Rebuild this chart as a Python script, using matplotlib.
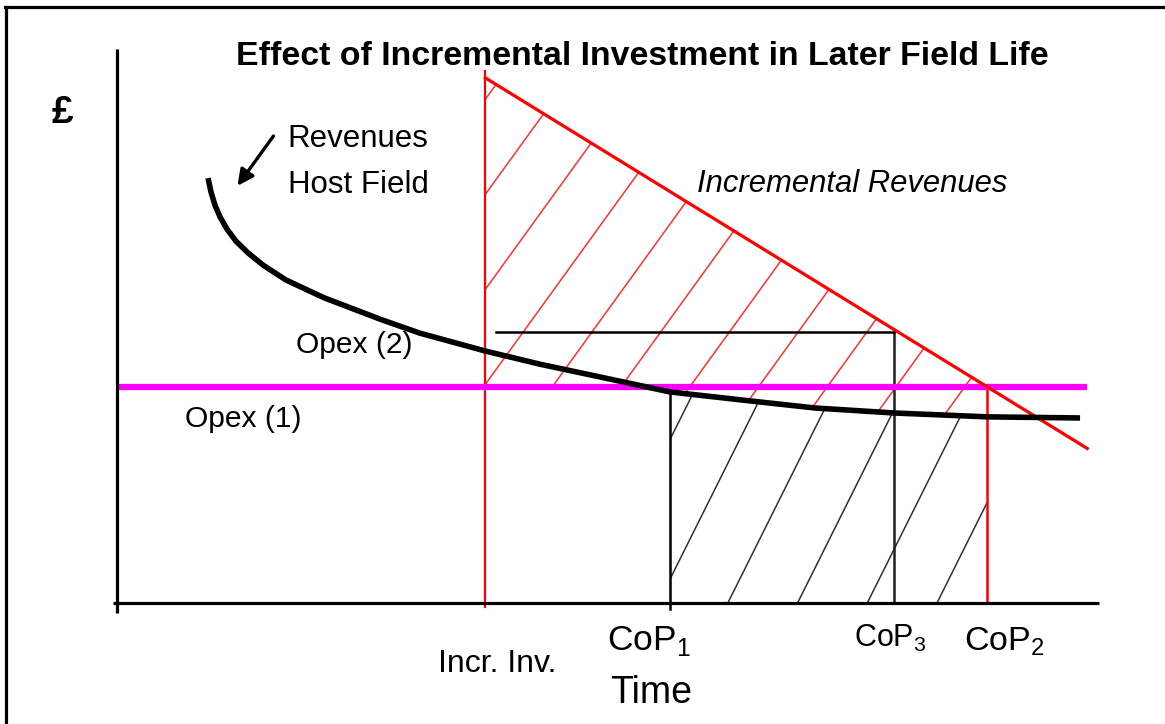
import matplotlib
matplotlib.use('Agg')
import matplotlib.pyplot as plt
import numpy as np
from matplotlib.patches import Polygon
from matplotlib.lines import Line2D

plt.rcParams['font.family'] = ['Liberation Sans Narrow', 'Liberation Sans', 'DejaVu Sans']

# schematic values: time on x (0-100), money on y (0-100)
host_t = [9.27, 9.57, 9.98, 10.49, 11.20, 12.12, 13.34, 14.87, 17.21, 21.08, 26.99, 30.86,
          37.47, 43.08, 49.19, 56.31, 63.85, 71.08, 79.12, 88.59, 98.07]
host_rev = [76.7, 74.2, 71.8, 69.7, 67.5, 65.3, 63.2, 61.0, 58.3, 55.1, 51.1, 48.7,
            45.5, 43.1, 40.8, 38.1, 36.6, 35.2, 34.3, 33.6, 33.4]

incr_t = [37.5, 98.8]
incr_rev = [94.8, 27.9]

opex1 = 39.0
opex1_t = [0, 98.8]
opex2 = 48.9
opex2_t = [38.6, 79.1]

t_incr_inv = 37.5
t_cop1 = 56.3
t_cop3 = 79.1
t_cop2 = 88.6

fig = plt.figure(figsize=(11.65, 7.24), dpi=100)
ax = fig.add_axes([117 / 1165, 1 - 603 / 724, (1099 - 117) / 1165, (603 - 49) / 724])
ax.set_xlim(0, 100)
ax.set_ylim(0, 100)
ax.axis('off')

# frame (top and left only visible)
fig.add_artist(Line2D([5 / 1165, 1], [1 - 7 / 724, 1 - 7 / 724], transform=fig.transFigure, color='black', lw=2.3))
fig.add_artist(Line2D([6 / 1165, 6 / 1165], [1 - 7 / 724, 0], transform=fig.transFigure, color='black', lw=2.3))


def hatch(poly, slope, step, x0, color, lw):
    for a in np.arange(x0 - 40 * step, 110, step):
        ln, = ax.plot([a, a + 100 / slope], [0, 100], color=color, lw=lw, zorder=1)
        ln.set_clip_path(poly)


cop1_rev = np.interp(t_cop1, host_t, host_rev)
cop2_rev = np.interp(t_cop2, host_t, host_rev)
seg = [(t, r) for t, r in zip(host_t, host_rev) if t_cop1 < t < t_cop2]

# red hatch: incremental revenues (down to opex 1, then down to host curve)
red_poly = Polygon([(t_incr_inv, opex1), (incr_t[0], incr_rev[0]), (t_cop2, opex1), (t_cop2, cop2_rev)]
                   + seg[::-1] + [(t_cop1, cop1_rev), (t_cop1, opex1)],
                   closed=True, transform=ax.transData)
hatch(red_poly, 2.45, 7.0, 14.4, '#ff3030', 1.1)

# black hatch: host revenue under curve between CoP1 and CoP2
blk_poly = Polygon([(t_cop1, 0), (t_cop1, cop1_rev)] + seg + [(t_cop2, cop2_rev), (t_cop2, 0)],
                   closed=True, transform=ax.transData)
hatch(blk_poly, 3.55, 7.1, 62.2, '#303030', 1.1)

# axes
ax.plot([0, 0], [-1.8, 100], color='black', lw=2.3, clip_on=False, solid_capstyle='butt', zorder=5)
ax.plot([-0.4, 100], [0, 0], color='black', lw=2.3, clip_on=False, solid_capstyle='butt', zorder=5)

# verticals
ax.plot([t_incr_inv, t_incr_inv], [-0.8, incr_rev[0] + 1.2], color='red', lw=1.6, clip_on=False, zorder=3)
ax.plot([t_cop1, t_cop1], [-1.0, cop1_rev], color='black', lw=1.8, clip_on=False, zorder=3)
ax.plot([t_cop3, t_cop3], [0, opex2], color='#202020', lw=1.8, zorder=3)
ax.plot([t_cop2, t_cop2], [0, opex1], color='red', lw=1.8, zorder=3)

# opex lines
ax.plot(opex2_t, [opex2, opex2], color='black', lw=1.8, zorder=3)
ax.plot(opex1_t, [opex1, opex1], color='#ff00ff', lw=4.5, solid_capstyle='butt', zorder=4)

# revenue curves
ax.plot(incr_t, incr_rev, color='red', lw=2.3, zorder=4)
ax.plot(host_t, host_rev, color='black', lw=4.0, solid_capstyle='butt', zorder=4)

# texts
fig.text(642 / 1165, 1 - 65 / 724, 'Effect of Incremental Investment in Later Field Life',
         ha='center', va='baseline', fontsize=24.4, fontweight='bold')
fig.text(62 / 1165, 1 - 123 / 724, '£', ha='center', va='baseline', fontsize=28, fontweight='bold')

ax.text(17.4, 82.3, 'Revenues', ha='left', va='baseline', fontsize=22.5)
ax.text(17.4, 74.0, 'Host Field', ha='left', va='baseline', fontsize=22.5)
ax.annotate('', xy=(12.1, 74.9), xytext=(16.1, 84.7),
            arrowprops=dict(arrowstyle='-|>', color='black', lw=2.4, mutation_scale=24))
ax.text(59.1, 74.2, 'Incremental Revenues', ha='left', va='baseline', fontsize=22.3, fontstyle='italic')
ax.text(18.2, 45.1, 'Opex (2)', ha='left', va='baseline', fontsize=21.6, zorder=2)
ax.text(6.9, 31.8, 'Opex (1)', ha='left', va='baseline', fontsize=21.6)

ax.text(32.7, -12.5, 'Incr. Inv.', ha='left', va='baseline', fontsize=23, clip_on=False)
ax.text(49.9, -8.5, r'CoP$_\mathregular{1}$', ha='left', va='baseline', fontsize=25.5, clip_on=False)
ax.text(50.2, -18.1, 'Time', ha='left', va='baseline', fontsize=27, clip_on=False)
ax.text(75.0, -7.9, r'CoP$_\mathregular{3}$', ha='left', va='baseline', fontsize=22, clip_on=False)
ax.text(86.3, -8.5, r'CoP$_\mathregular{2}$', ha='left', va='baseline', fontsize=24.5, clip_on=False)

fig.savefig('out.png', dpi=100)
